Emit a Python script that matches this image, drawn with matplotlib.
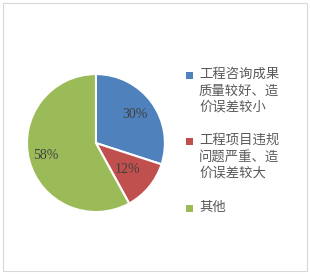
import matplotlib.pyplot as plt
from matplotlib.patches import Rectangle
import numpy as np

plt.rcParams['font.family'] = ['Noto Sans CJK SC', 'DejaVu Sans']

labels = ["工程咨询成果\n质量较好、造\n价误差较小",
          "工程项目违规\n问题严重、造\n价误差较大",
          "其他"]
values = [30, 12, 58]
colors = ["#4F81BD", "#C0504D", "#9BBB59"]
pct_dist = [0.7, 0.6, 0.75]

W, H = 310, 274
fig = plt.figure(figsize=(W / 100, H / 100), dpi=100)
fig.patches.append(Rectangle((0.01, 0.012), 0.98, 0.976, transform=fig.transFigure,
                             fill=False, edgecolor="#d9d9d9", linewidth=0.8))

ax = fig.add_axes([0.087, 0.226, 0.445, 0.504])
wedges, texts, autotexts = ax.pie(values, colors=colors, startangle=90, counterclock=False,
                                  autopct="%d%%", pctdistance=0.6,
                                  wedgeprops=dict(edgecolor="white", linewidth=1.5),
                                  textprops=dict(family="Liberation Serif", fontsize=10, color="#404040"))
for w, t, d in zip(wedges, autotexts, pct_dist):
    ang = np.deg2rad((w.theta1 + w.theta2) / 2)
    t.set_position((d * np.cos(ang), d * np.sin(ang)))
ax.set_xlim(-1, 1)
ax.set_ylim(-1, 1)
ax.set_aspect("equal")

# hand-made legend: marker aligned with the first line of each entry
first_line_y = [75, 141, 208]  # pixel rows from top (centre of first line)
for lab, c, yp in zip(labels, colors, first_line_y):
    fig.patches.append(Rectangle((186 / W, 1 - (yp + 3.5) / H), 7 / W, 7 / H,
                                 transform=fig.transFigure, facecolor=c, edgecolor="none"))
    fig.text(199 / W, 1 - (yp - 8) / H, lab, fontsize=9.6, color="#595959",
             va="top", ha="left", linespacing=1.22,
             transform=fig.transFigure)

fig.savefig("out.png", dpi=100)
